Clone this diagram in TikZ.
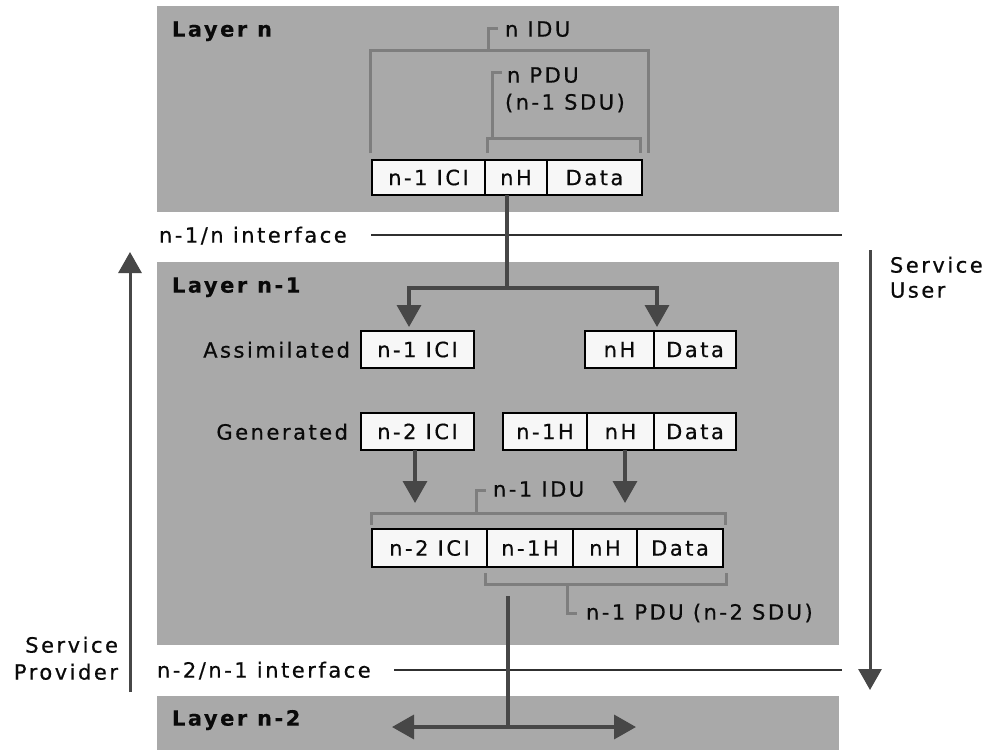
\documentclass[tikz,border=0pt]{standalone}
\usepackage{fontspec}
\setmainfont{DejaVu Sans}[LetterSpace=12, FakeBold=0.6, BoldFeatures={FakeBold=0.4}]
\usetikzlibrary{arrows.meta}

\definecolor{layergray}{HTML}{A9A9A9}
\definecolor{bracketgray}{HTML}{7E7E7E}
\definecolor{arrowgray}{HTML}{474747}
\definecolor{cellfill}{HTML}{F7F7F7}
\definecolor{ink}{HTML}{0A0A0A}
\definecolor{ifgray}{HTML}{303030}

\tikzset{
  layerbox/.style={fill=layergray, draw=none},
  cell/.style={draw=black, line width=2pt, fill=cellfill, inner sep=0pt, outer sep=0pt,
    anchor=north west, text=ink, text height=15.3pt, text depth=0pt},
  label/.style={inner sep=0pt, outer sep=0pt, anchor=base west, text=ink},
  rlabel/.style={label, anchor=base east},
  bracket/.style={draw=bracketgray, line width=3pt},
  ifline/.style={draw=ifgray, line width=2pt},
  stem/.style={draw=arrowgray, line width=3.5pt},
  flow/.style={stem, -{Triangle[width=24pt,length=22pt]}},
  flowboth/.style={stem, {Triangle[width=24pt,length=22pt]}-{Triangle[width=24pt,length=22pt]}},
  svc/.style={draw=arrowgray, line width=3pt, -{Triangle[width=23pt,length=21pt]}},
  heading/.style={label, font=\fontsize{21}{25}\selectfont\bfseries},
}

\begin{document}
\begin{tikzpicture}[x=1pt, y=-1pt, font=\fontsize{21}{25}\selectfont]
\useasboundingbox (0,0) rectangle (990,750);
\fill[white] (0,0) rectangle (990,750);

% layer bands
\fill[layerbox] (157,6) rectangle (839,212);
\fill[layerbox] (157,262) rectangle (839,645);
\fill[layerbox] (157,696) rectangle (839,750);

\node[heading] (lyn)  at (172,36.6)  {Layer n};
\node[heading] (lyn1) at (172,292.6) {Layer n-1};
\node[heading] (lyn2) at (172,725.6) {Layer n-2};

% interfaces
\node[label] (if1) at (159,242.6) {n-1/n interface};
\node[label] (if2) at (157,677.6) {n-2/n-1 interface};
\coordinate (if1end) at (842,235);
\coordinate (if2end) at (842,670);
\draw[ifline] (371,235) -- (if1end);
\draw[ifline] (394,670) -- (if2end);

% layer n: packet handed down
\node[cell, minimum width=113pt, minimum height=35pt] (pa) at (372,160) {n-1 ICI};
\node[cell, minimum width=62pt,  minimum height=35pt] (pb) at (485,160) {nH};
\node[cell, minimum width=95pt,  minimum height=35pt] (pc) at (547,160) {Data};

\draw[bracket] (370,153) -- (370,50) -- (648,50) -- (648,153);
\draw[bracket] (488,50) -- (488,28) -- (498,28);
\node[label] (nidu) at (505,36.6) {n IDU};
\draw[bracket] (487,153) -- (487,138) -- (640,138) -- (640,153);
\draw[bracket] (492,138) -- (492,72) -- (502,72);
\node[label] (npdu) at (507,82.6) {n PDU};
\node[label] (nsdu) at (505,109.6) {(n-1 SDU)};

% layer n-1: split of the incoming unit
\node[rlabel] (assim) at (350,357.6) {Assimilated};
\node[cell, minimum width=113pt, minimum height=37pt] (aici) at (361,331) {n-1 ICI};
\node[cell, minimum width=69pt,  minimum height=37pt] (anh)  at (585,331) {nH};
\node[cell, minimum width=82pt,  minimum height=37pt] (adat) at (654,331) {Data};

\coordinate (fork) at (507,288);
\coordinate (tipl) at (409,327);
\coordinate (tipr) at (657,327);
\draw[stem] (fork |- pb.south) -- (fork);
\draw[flow] (fork) -| (tipl);
\draw[flow] (fork) -| (tipr);

\node[rlabel] (gen) at (348,439.6) {Generated};
\node[cell, minimum width=113pt, minimum height=37pt] (gici) at (361,413) {n-2 ICI};
\node[cell, minimum width=84pt,  minimum height=37pt] (gh)   at (503,413) {n-1H};
\node[cell, minimum width=67pt,  minimum height=37pt] (gnh)  at (587,413) {nH};
\node[cell, minimum width=82pt,  minimum height=37pt] (gdat) at (654,413) {Data};

\coordinate (jl) at (415,503);
\coordinate (jr) at (625,503);
\draw[flow] (jl |- gici.south) -- (jl);
\draw[flow] (jr |- gnh.south) -- (jr);

% layer n-1: packet handed down
\node[cell, minimum width=115pt, minimum height=38pt] (qa) at (372,529) {n-2 ICI};
\node[cell, minimum width=86pt,  minimum height=38pt] (qb) at (487,529) {n-1H};
\node[cell, minimum width=64pt,  minimum height=38pt] (qc) at (573,529) {nH};
\node[cell, minimum width=86pt,  minimum height=38pt] (qd) at (637,529) {Data};

\draw[bracket] (371,525) -- (371,513) -- (725,513) -- (725,525);
\draw[bracket] (476,513) -- (476,490) -- (486,490);
\node[label] (n1idu) at (493,496.6) {n-1 IDU};
\draw[bracket] (485,573) -- (485,584) -- (726,584) -- (726,573);
\draw[bracket] (567,584) -- (567,613) -- (577,613);
\node[label] (n1pdu) at (586,619.6) {n-1 PDU (n-2 SDU)};

\coordinate (dtop) at (508,596);
\coordinate (dbot) at (508,727);
\coordinate (dl) at (392,727);
\coordinate (dr) at (636,727);
\draw[stem] (dtop) -- (dbot);
\draw[flowboth] (dl) -- (dr);

% service directions
\coordinate (spb) at (130,692);
\coordinate (spt) at (130,252);
\draw[svc] (spb) -- (spt);
\node[rlabel] (sp1) at (118,652.6) {Service};
\node[rlabel] (sp2) at (118,679.6) {Provider};

\coordinate (sut) at (870,250);
\coordinate (sub) at (870,690);
\draw[svc] (sut) -- (sub);
\node[label] (su1) at (890,272.6) {Service};
\node[label] (su2) at (890,297.6) {User};
\end{tikzpicture}
\end{document}
